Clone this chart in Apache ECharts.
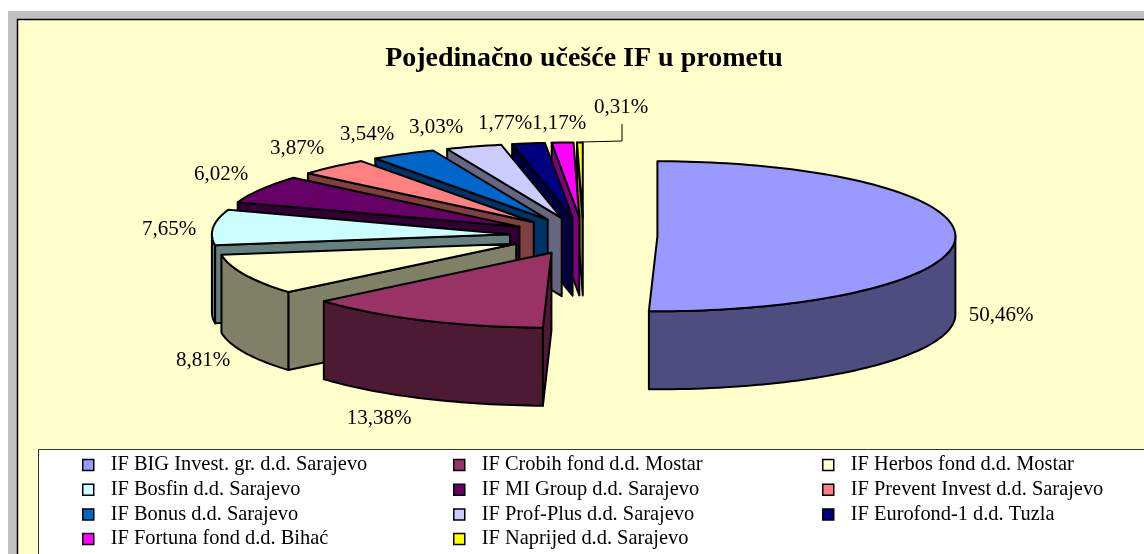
<!DOCTYPE html>
<html><head><meta charset="utf-8">
<style>html,body{margin:0;padding:0;background:#fff}#c{width:1144px;height:554px}</style>
<script src="https://cdn.jsdelivr.net/npm/echarts@6/dist/echarts.min.js"></script>
</head><body><div id="c"></div>
<script>
const funds = ['IF BIG Invest. gr. d.d. Sarajevo','IF Crobih fond d.d. Mostar','IF Herbos fond d.d. Mostar','IF Bosfin d.d. Sarajevo','IF MI Group d.d. Sarajevo','IF Prevent Invest d.d. Sarajevo','IF Bonus d.d. Sarajevo','IF Prof-Plus d.d. Sarajevo','IF Eurofond-1 d.d. Tuzla','IF Fortuna fond d.d. Bihać','IF Naprijed d.d. Sarajevo'];
const shares = [50.46,13.38,8.81,7.65,6.02,3.87,3.54,3.03,1.77,1.17,0.31];
const shareLabels = ['50,46%','13,38%','8,81%','7,65%','6,02%','3,87%','3,54%','3,03%','1,77%','1,17%','0,31%'];
const topColors = ['#9999FF','#993366','#FFFFCC','#CCFFFF','#660066','#FF8080','#0066CC','#CCCCFF','#000080','#FF00FF','#FFFF00'];
const sideColors = ['#4D4D80','#4D1A33','#808066','#668080','#330033','#804040','#003366','#666680','#000040','#800080','#808000'];
const labelX = [1001,379,203,169,221,297,367,436,505,559,621];
const labelY = [315,418,360,229,174,148,134,127,123,123,107];

const CX=583.5, CY=236, RX=298, RY=75, DEPTH=78, EXPLODE=0.248;
const total = shares.reduce((a,b)=>a+b,0);
const FONT='"Liberation Serif","Times New Roman",serif';

function slice(i, value){
  let before=0; for(let k=0;k<i;k++) before+=shares[k];
  const a0=before/total*2*Math.PI, a1=a0+value/total*2*Math.PI, m=(a0+a1)/2;
  const ax=CX+EXPLODE*RX*Math.sin(m), ay=CY-EXPLODE*RY*Math.cos(m);
  const arc=[]; const n=Math.max(2,Math.ceil((a1-a0)/(Math.PI/120)));
  for(let s=0;s<=n;s++){const t=a0+(a1-a0)*s/n; arc.push([ax+RX*Math.sin(t),ay-RY*Math.cos(t)]);}
  return {apex:[ax,ay],arc};
}
function extrude(pts){
  const down=pts.slice().reverse().map(p=>[p[0],p[1]+DEPTH]);
  return pts.concat(down);
}
function render(i){
  return function(params,api){
    const {apex,arc}=slice(i,api.value(0));
    const children=[];
    const style={fill:sideColors[i],stroke:'#000',lineWidth:2,lineJoin:'round'};
    // front-facing walls: any boundary run that moves leftwards on screen
    const faces=[];
    let run=null;
    for(let k=0;k<arc.length-1;k++){
      if(arc[k+1][0]<arc[k][0]){ if(!run) run=[arc[k]]; run.push(arc[k+1]); }
      else if(run){ faces.push(run); run=null; }
    }
    if(run) faces.push(run);
    const last=arc[arc.length-1];
    if(apex[0]<last[0]) faces.push([last,apex]);
    if(arc[0][0]<apex[0]) faces.push([apex,arc[0]]);
    faces.forEach(f=>children.push({type:'polygon',shape:{points:extrude(f)},style}));
    children.push({type:'polygon',shape:{points:[apex].concat(arc)},style:{fill:topColors[i],stroke:'#000',lineWidth:2,lineJoin:'round'}});
    children.push({type:'text',z2:50,style:{text:shareLabels[i],x:labelX[i],y:labelY[i],align:'center',verticalAlign:'middle',fill:'#000',font:'21px '+FONT}});
    return {type:'group',children};
  };
}
const paintOrder=[0,10,9,8,7,6,5,4,3,2,1];
const series=funds.map((name,i)=>({
  type:'custom',name,coordinateSystem:'none',silent:true,
  z:2+paintOrder.indexOf(i),
  itemStyle:{color:topColors[i]},
  data:[[shares[i]]],
  renderItem:render(i)
}));
function col(names,left){
  return {orient:'vertical',left,top:450,height:110,itemGap:4.7,itemWidth:11,itemHeight:11,icon:'rect',selectedMode:false,
    data:names,itemStyle:{borderColor:'#000',borderWidth:1.5},
    textStyle:{fontFamily:FONT,fontSize:20.4,color:'#000',padding:[0,0,0,12],height:19,lineHeight:19}};
}
const chart=echarts.init(document.getElementById('c'),null,{renderer:'canvas'});
chart.setOption({
  animation:false,
  title:{text:'Pojedinačno učešće IF u prometu',left:579,top:40,textAlign:'center',
    textStyle:{fontFamily:FONT,fontWeight:'bold',fontSize:28,color:'#000'}},
  legend:[
    col([funds[0],funds[3],funds[6],funds[9]],77),
    col([funds[1],funds[4],funds[7],funds[10]],448),
    col([funds[2],funds[5],funds[8]],817)
  ],
  graphic:{elements:[
    {type:'rect',z:-10,shape:{x:8,y:11,width:1136,height:543},style:{fill:'#C0C0C0'},silent:true},
    {type:'rect',z:-9,shape:{x:17.5,y:19.5,width:1140,height:545},style:{fill:'#FFFFCC',stroke:'#000',lineWidth:1.5},silent:true},
    {type:'rect',z:-8,shape:{x:38.5,y:449.5,width:1120,height:120},style:{fill:'#FFFFFF',stroke:'#333',lineWidth:1},silent:true},
    {type:'polyline',z:1,shape:{points:[[581,142],[622,141],[622,124]]},style:{stroke:'#000',lineWidth:1,fill:null},silent:true}
  ]},
  series
});
</script></body></html>
